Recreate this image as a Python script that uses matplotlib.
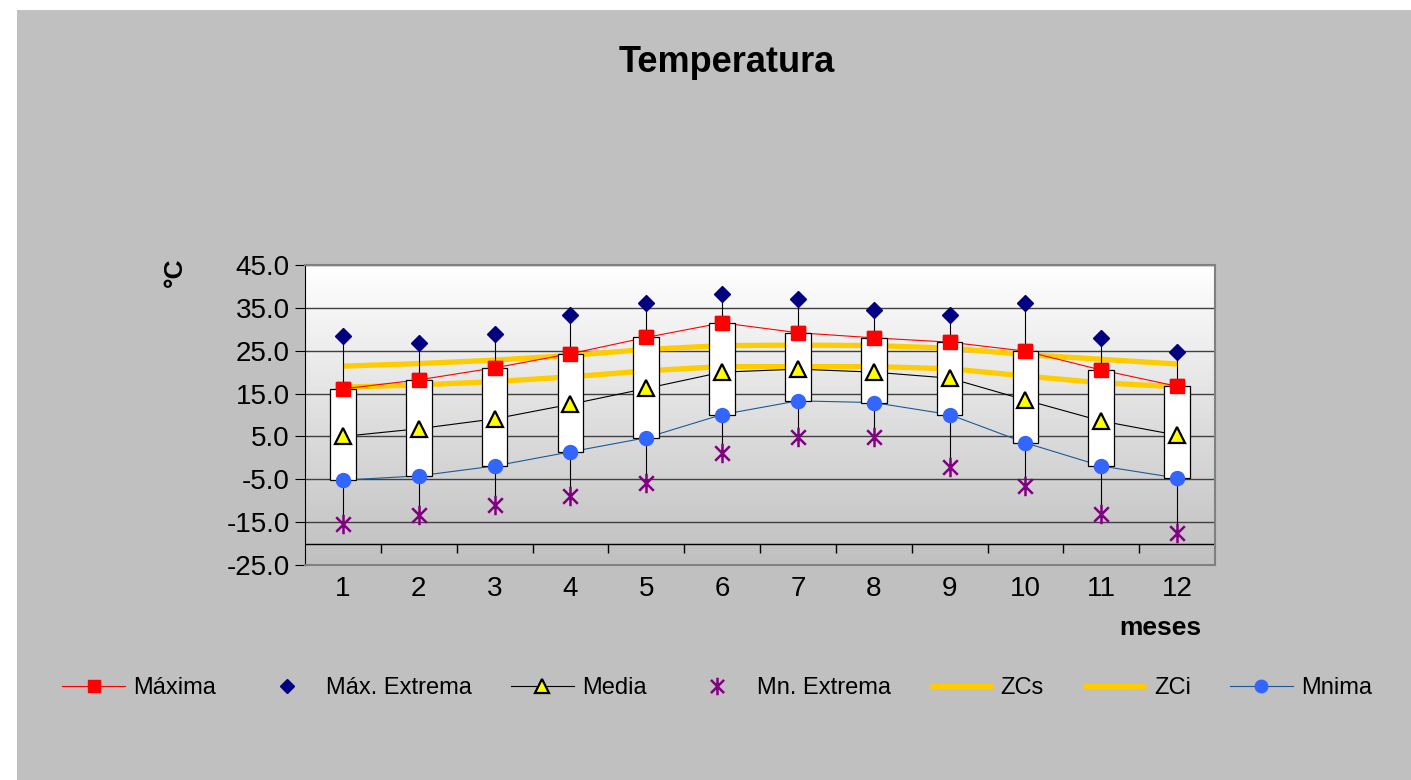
import numpy as np
import matplotlib
matplotlib.use('Agg')
import matplotlib.pyplot as plt
from matplotlib.colors import LinearSegmentedColormap
from matplotlib.patches import Rectangle
from matplotlib.path import Path

plt.rcParams['font.family'] = ['Liberation Sans', 'DejaVu Sans']

# data
meses = np.arange(1, 13)
maxima = [16.1, 18.2, 21.0, 24.3, 28.1, 31.5, 29.2, 28.0, 27.0, 24.9, 20.5, 16.7]
max_extrema = [28.4, 26.7, 29.0, 33.3, 36.2, 38.3, 37.1, 34.4, 33.3, 36.1, 27.9, 24.6]
media = [5.0, 6.8, 9.1, 12.5, 16.2, 20.0, 20.7, 20.0, 18.6, 13.5, 8.6, 5.3]
min_extrema = [-15.4, -13.4, -11.0, -8.9, -5.9, 1.1, 4.8, 4.8, -2.2, -6.6, -13.2, -17.6]
zcs = [21.4, 22.0, 22.8, 23.9, 25.3, 26.2, 26.3, 26.2, 25.6, 24.1, 23.0, 21.9]
zci = [16.5, 17.0, 17.8, 18.9, 20.3, 21.3, 21.3, 21.3, 20.8, 19.1, 17.5, 16.6]
minima = [-5.2, -4.2, -1.9, 1.4, 4.7, 10.1, 13.3, 12.9, 10.1, 3.5, -1.9, -4.7]
y_ticks = [-25, -15, -5, 5, 15, 25, 35, 45]

# Excel-like star: an X with a vertical bar
star = Path([(0, -1), (0, 1), (-0.75, -0.75), (0.75, 0.75), (-0.75, 0.75), (0.75, -0.75)],
            [Path.MOVETO, Path.LINETO, Path.MOVETO, Path.LINETO, Path.MOVETO, Path.LINETO])

fig = plt.figure(figsize=(14.11, 7.8), dpi=100, facecolor='white')
fig.patches.append(Rectangle((17 / 1411, 0), 1, 1 - 10 / 780, transform=fig.transFigure,
                             facecolor='#C0C0C0', edgecolor='none', zorder=-10))

ax = fig.add_axes([305 / 1411, 1 - 565 / 780, 910 / 1411, 300 / 780])
ax.set_xlim(0.5, 12.5)
ax.set_ylim(-25, 45)

# gradient plot area
cmap = LinearSegmentedColormap.from_list('bg', ['#C0C0C0', '#FFFFFF'])
ax.imshow(np.linspace(0, 1, 256)[:, None], extent=[0.5, 12.5, -25, 45], origin='lower',
          aspect='auto', cmap=cmap, zorder=0)

for y in y_ticks[1:]:
    ax.axhline(y, color='#404040', lw=1, zorder=1)
ax.axhline(-20, color='black', lw=1, zorder=1)
ax.vlines(np.arange(1.5, 12, 1), -22.1, -20, color='black', lw=1, zorder=1)

# lines
ax.plot(meses, zcs, color='#FFCC00', lw=3.8, solid_capstyle='butt', zorder=2, label='ZCs')
ax.plot(meses, zci, color='#FFCC00', lw=3.8, solid_capstyle='butt', zorder=2, label='ZCi')
ax.plot(meses, maxima, color='#FF0000', lw=0.8, marker='s', ms=10, mfc='#FF0000', mec='#FF0000',
        zorder=2, label='Máxima')
ax.plot(meses, media, color='black', lw=0.8, marker='^', ms=11, mfc='#FFFF00', mec='black',
        mew=1.6, zorder=2, label='Media')
ax.plot(meses, minima, color='#1F5A96', lw=0.8, marker='o', ms=10, mfc='#3366FF', mec='#3366FF',
        zorder=2, label='Mnima')

# high-low lines and boxes
ax.vlines(meses, min_extrema, max_extrema, color='black', lw=0.8, zorder=2.5)
heights = np.array(maxima) - np.array(minima)
ax.bar(meses, heights, bottom=minima, width=0.34, color='white', edgecolor='black', lw=0.9, zorder=3)

# markers on top
ax.plot(meses, maxima, ls='none', marker='s', ms=10, mfc='#FF0000', mec='#FF0000', zorder=4)
ax.plot(meses, media, ls='none', marker='^', ms=11, mfc='#FFFF00', mec='black', mew=1.6, zorder=4)
ax.plot(meses, minima, ls='none', marker='o', ms=10, mfc='#3366FF', mec='#3366FF', zorder=4)
ax.plot(meses, max_extrema, ls='none', marker='D', ms=8, mfc='#000080', mec='#000080', zorder=4,
        label='Máx. Extrema')
ax.plot(meses, min_extrema, ls='none', marker=star, ms=14, mew=1.8, color='#800080', zorder=4,
        label='Mn. Extrema')

# axes styling
for side in ['top', 'right', 'bottom']:
    ax.spines[side].set_color('#808080')
    ax.spines[side].set_linewidth(1.5)
ax.spines['left'].set_color('black')
ax.set_yticks(y_ticks)
ax.set_yticklabels([f'{v:.1f}' for v in y_ticks], fontsize=20)
ax.set_xticks(meses)
ax.set_xticklabels([str(m) for m in meses], fontsize=20)
ax.tick_params(axis='y', length=7, direction='out', pad=4)
ax.tick_params(axis='x', length=0, pad=8)

fig.text(727 / 1411, 1 - 62 / 780, 'Temperatura', fontsize=26, fontweight='bold',
         ha='center', va='center')
fig.text(1160 / 1411, 1 - 628 / 780, 'meses', fontsize=19, fontweight='bold',
         ha='center', va='center')
fig.text(175 / 1411, 1 - 272 / 780, '°C', fontsize=19, fontweight='bold', rotation=90,
         ha='center', va='center')

h, l = ax.get_legend_handles_labels()
order = ['Máxima', 'Máx. Extrema', 'Media', 'Mn. Extrema', 'ZCs', 'ZCi', 'Mnima']
hl = dict(zip(l, h))
fig.legend([hl[k] for k in order], order, loc='center', bbox_to_anchor=(717 / 1411, 1 - 688 / 780),
           ncol=7, frameon=False, fontsize=17, handlelength=2.67, columnspacing=1.65,
           handletextpad=0.34, markerscale=0.9)

fig.savefig('out.png', dpi=100, facecolor=fig.get_facecolor())
